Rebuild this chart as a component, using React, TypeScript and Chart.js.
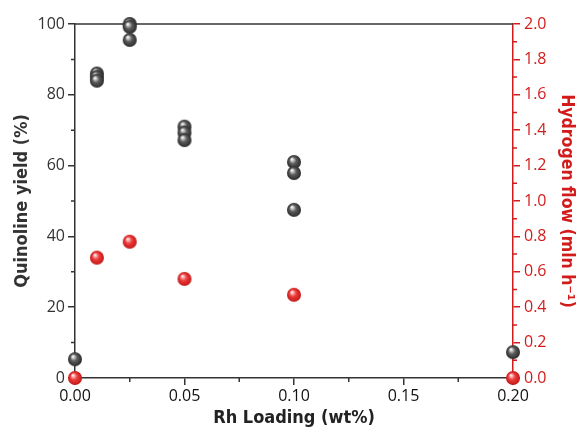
import { useEffect, useRef } from "react";
import { Chart, registerables } from "chart.js";

Chart.register(...registerables);

// Data
const yieldLoading = [0, 0.01, 0.01, 0.01, 0.025, 0.025, 0.025, 0.05, 0.05, 0.05, 0.1, 0.1, 0.1, 0.2];
const quinolineYield = [5.3, 86.0, 85.0, 84.0, 100, 99.2, 95.5, 71.0, 69.3, 67.2, 61.0, 57.9, 47.5, 7.3];
const flowLoading = [0, 0.01, 0.025, 0.05, 0.1, 0.2];
const hydrogenFlow = [0, 0.68, 0.77, 0.56, 0.47, 0];

const xMinor = [0.025, 0.075, 0.125, 0.175];
const yMinor = [10, 30, 50, 70, 90];
const y2Minor = [0.1, 0.3, 0.5, 0.7, 0.9, 1.1, 1.3, 1.5, 1.7, 1.9];

const AXIS = "#333333";
const RED = "#d21c1c";
const TICK_FONT = { family: '"Open Sans", "Noto Sans", sans-serif', size: 16 };
const TITLE_FAMILY = '"Liberation Sans Narrow", "DejaVu Sans Condensed", "Open Sans", sans-serif';

function makeBall(light: string, mid: string, dark: string, r: number) {
  const c = document.createElement("canvas");
  const s = r * 2 + 2;
  c.width = s;
  c.height = s;
  const ctx = c.getContext("2d")!;
  const cx = s / 2, cy = s / 2;
  const g = ctx.createRadialGradient(cx - r * 0.3, cy - r * 0.4, r * 0.08, cx, cy, r);
  g.addColorStop(0, light);
  g.addColorStop(0.45, mid);
  g.addColorStop(1, dark);
  ctx.fillStyle = g;
  ctx.beginPath();
  ctx.arc(cx, cy, r, 0, Math.PI * 2);
  ctx.fill();
  return c;
}

const decorations = {
  id: "decorations",
  beforeDatasetsDraw(chart: any) {
    const { ctx, chartArea } = chart;
    const x = chart.scales.x, y = chart.scales.y, y2 = chart.scales.y2;
    ctx.save();
    ctx.lineWidth = 1.5;
    ctx.strokeStyle = AXIS;
    ctx.beginPath();
    ctx.moveTo(chartArea.left, chartArea.top);
    ctx.lineTo(chartArea.right, chartArea.top);
    ctx.stroke();
    ctx.beginPath();
    xMinor.forEach((v) => {
      const px = x.getPixelForValue(v);
      ctx.moveTo(px, chartArea.bottom);
      ctx.lineTo(px, chartArea.bottom + 4);
    });
    yMinor.forEach((v) => {
      const py = y.getPixelForValue(v);
      ctx.moveTo(chartArea.left, py);
      ctx.lineTo(chartArea.left - 4, py);
    });
    ctx.stroke();
    ctx.strokeStyle = RED;
    ctx.beginPath();
    y2Minor.forEach((v) => {
      const py = y2.getPixelForValue(v);
      ctx.moveTo(chartArea.right, py);
      ctx.lineTo(chartArea.right + 4, py);
    });
    ctx.stroke();
    ctx.restore();
  },
};

export default function App() {
  const ref = useRef<HTMLCanvasElement>(null);
  useEffect(() => {
    const grayBall = makeBall("#f4f4f4", "#5c5c5c", "#2a2a2a", 7);
    const redBall = makeBall("#ffe4e4", "#ec3c3c", "#c41616", 7);
    const chart = new Chart(ref.current!, {
      type: "scatter",
      data: {
        datasets: [
          {
            label: "Hydrogen flow",
            data: flowLoading.map((x, i) => ({ x, y: hydrogenFlow[i] })),
            yAxisID: "y2",
            pointStyle: redBall as any,
            pointRadius: 7,
            clip: false as any,
          },
          {
            label: "Quinoline yield",
            data: yieldLoading.map((x, i) => ({ x, y: quinolineYield[i] })),
            yAxisID: "y",
            pointStyle: grayBall as any,
            pointRadius: 7,
            clip: false as any,
          },
        ],
      },
      options: {
        responsive: false,
        animation: false,
        layout: { padding: { top: 24, left: 0, right: 0, bottom: 0 }, autoPadding: false },
        plugins: { legend: { display: false }, tooltip: { enabled: false } },
        scales: {
          x: {
            type: "linear",
            min: 0,
            max: 0.2,
            afterFit: (s: any) => { s.height = 53; },
            ticks: {
              stepSize: 0.05,
              color: "#111",
              font: TICK_FONT,
              padding: 2,
              callback: (v: any) => Number(v).toFixed(2),
            },
            grid: { drawOnChartArea: false, drawTicks: true, tickLength: 7, color: AXIS, lineWidth: 1.5 },
            border: { color: AXIS, width: 1.5 },
            title: {
              display: true,
              text: "Rh Loading (wt%)",
              color: "#222",
              font: { family: TITLE_FAMILY, size: 18, weight: "bold", lineHeight: 1 },
              padding: { top: 0, bottom: 4 },
            },
          },
          y: {
            type: "linear",
            position: "left",
            min: 0,
            max: 100,
            afterFit: (s: any) => { s.width = 75; },
            ticks: { stepSize: 20, color: "#333", font: TICK_FONT, padding: 3 },
            grid: { drawOnChartArea: false, drawTicks: true, tickLength: 7, color: AXIS, lineWidth: 1.5 },
            border: { color: AXIS, width: 1.5 },
            title: {
              display: true,
              text: "Quinoline yield (%)",
              color: "#333",
              font: { family: TITLE_FAMILY, size: 18, weight: "bold", lineHeight: 1 },
              padding: { top: 13, bottom: 0 },
            },
          },
          y2: {
            type: "linear",
            position: "right",
            min: 0,
            max: 2,
            afterFit: (s: any) => { s.width = 63; },
            ticks: {
              stepSize: 0.2,
              color: RED,
              font: TICK_FONT,
              padding: 4,
              callback: (v: any) => Number(v).toFixed(1),
            },
            grid: { drawOnChartArea: false, drawTicks: true, tickLength: 7, color: RED, lineWidth: 1.5 },
            border: { color: RED, width: 1.5 },
            title: {
              display: true,
              text: "Hydrogen flow (mln h\u207B\u00B9)",
              color: RED,
              font: { family: TITLE_FAMILY, size: 17.5, weight: "bold", lineHeight: 1 },
              padding: { top: 1, bottom: 0 },
            },
          },
        },
      },
      plugins: [decorations],
    });
    return () => chart.destroy();
  }, []);
  return (
    <div style={{ position: "fixed", left: 0, top: 0, width: 576, height: 431, background: "#fff" }}>
      <canvas ref={ref} width={576} height={431} style={{ display: "block" }} />
    </div>
  );
}
